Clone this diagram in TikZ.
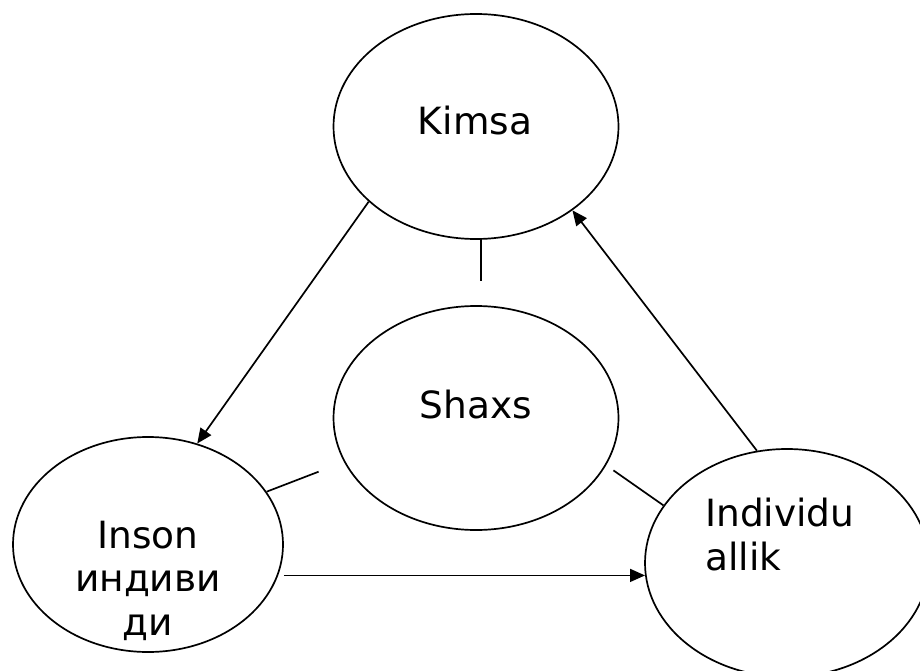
\documentclass[tikz,border=0pt]{standalone}
\usepackage{fontspec}
\setmainfont{DejaVu Sans}
\usetikzlibrary{shapes.geometric,arrows.meta}
\begin{document}
\begin{tikzpicture}[x=1pt,y=-1pt,
  oval/.style={draw,ellipse,line width=1.7pt,inner sep=0pt},
  lbl/.style={font=\fontsize{37.5}{43.5}\selectfont,inner sep=0pt,anchor=base},
  link/.style={line width=1.7pt},
  arr/.style={line width=1.7pt,-{Triangle[length=15pt,width=13pt]}}]
\useasboundingbox (0,0) rectangle (920,671);
\clip (0,0) rectangle (920,671);
\node[oval,minimum width=285pt,minimum height=225pt] (kimsa) at (476,126.5) {};
\node[oval,minimum width=285pt,minimum height=224pt] (shaxs) at (476,418) {};
\node[oval,minimum width=270pt,minimum height=215pt] (inson) at (148,544.5) {};
\node[oval,minimum width=284pt,minimum height=228pt] (indiv) at (787,563) {};
\node[lbl] (tk) at (475,135) {Kimsa};
\node[lbl] (ts) at (476,418) {Shaxs};
\node[lbl,align=center] (ti) at (148,635) {Inson\\индиви\\ди};
\node[lbl,align=left,anchor=base west] (tv) at (705,570) {Individu\\allik};
\draw[arr] (kimsa.215.4) -- (inson.64.7);
\draw[arr] (indiv.105) -- (kimsa.319.4);
\draw[arr] (inson.east |- indiv.185) -- (indiv.185);
\draw[link] ([xshift=5pt]kimsa.south) -- ++(0,41);
\draw[link] (inson.24) -- ++(52,-20);
\draw[link] (indiv.155) -- ++(-50,-35);
\end{tikzpicture}
\end{document}
